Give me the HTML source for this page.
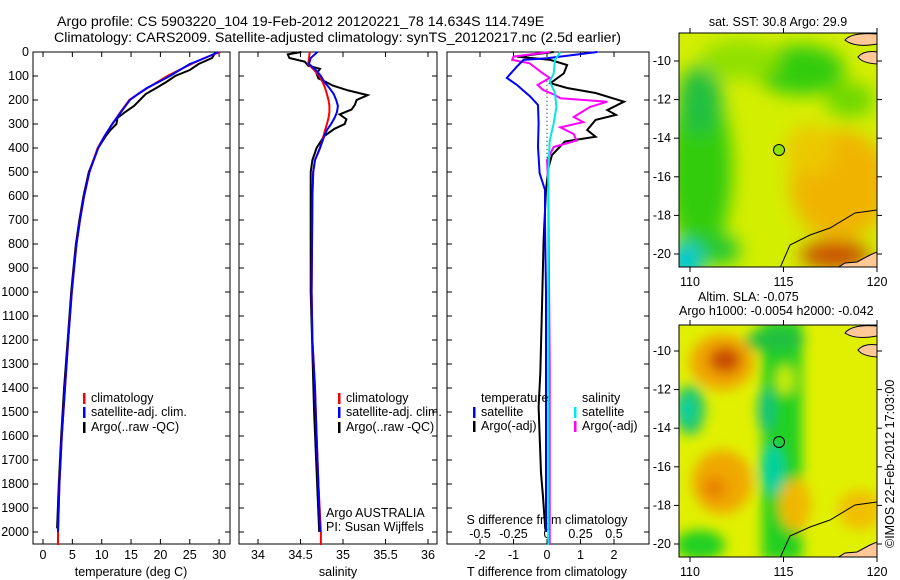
<!DOCTYPE html>
<html><head><meta charset="utf-8"><style>
html,body{margin:0;padding:0;background:#fff;}
svg{display:block;font-family:"Liberation Sans",sans-serif;}
text{font-size:12.5px;fill:#000;}
</style></head><body>
<svg id="fig" width="900" height="580" viewBox="0 0 900 580" xmlns="http://www.w3.org/2000/svg">
<defs>
<filter id="blur1" x="-20%" y="-20%" width="140%" height="140%"><feGaussianBlur stdDeviation="9"/></filter>
<filter id="blur2" x="-20%" y="-20%" width="140%" height="140%"><feGaussianBlur stdDeviation="6"/></filter>
<clipPath id="clipTop"><rect x="679" y="33" width="198" height="234"/></clipPath>
<clipPath id="clipBot"><rect x="679" y="325" width="198" height="232"/></clipPath>
</defs>
<text x="57" y="26" style="font-size:14.2px">Argo profile: CS 5903220_104 19-Feb-2012 20120221_78 14.634S 114.749E</text>
<text x="54" y="42" style="font-size:14.2px">Climatology: CARS2009. Satellite-adjusted climatology: synTS_20120217.nc (2.5d earlier)</text>

<!-- top map -->
<g clip-path="url(#clipTop)">
<rect x="679" y="33" width="198" height="234" fill="#d4ee00"/>
<g filter="url(#blur1)">
<ellipse cx="700" cy="170" rx="32" ry="85" fill="#30cc10"/>
<ellipse cx="700" cy="100" rx="22" ry="35" fill="#20c040"/>
<ellipse cx="800" cy="70" rx="45" ry="25" fill="#30cc10"/>
<ellipse cx="850" cy="100" rx="25" ry="18" fill="#70d800"/>
<ellipse cx="740" cy="60" rx="40" ry="20" fill="#90e000"/>
<ellipse cx="840" cy="185" rx="50" ry="55" fill="#f0b400"/>
<ellipse cx="810" cy="150" rx="25" ry="25" fill="#ecc800"/>
<ellipse cx="835" cy="255" rx="35" ry="14" fill="#c84a00"/>
<ellipse cx="685" cy="262" rx="18" ry="20" fill="#00c8d8"/>
<ellipse cx="720" cy="250" rx="20" ry="15" fill="#20c830"/>
</g>
<path d="M845,40 Q852,32 877,34 L877,44 Q855,48 845,40 Z" fill="#ffc896" stroke="#000" stroke-width="1"/>
<path d="M858,57 Q864,50 877,52 L877,64 Q862,63 858,57 Z" fill="#ffc896" stroke="#000" stroke-width="1"/>
<path d="M837,268 L845,263 L857,262 L870,255 L877,252 L877,268 Z" fill="#ffc896" stroke="#000" stroke-width="1"/>
<polyline points="780,268 790,245 810,235 830,228 855,213 877,210" fill="none" stroke="#000" stroke-width="1"/>
<circle cx="779" cy="150" r="5.5" fill="#90e000" stroke="#000" stroke-width="1"/>
</g>
<rect x="679" y="33" width="198" height="234" fill="none" stroke="#000" stroke-width="1"/>

<!-- bottom map -->
<g clip-path="url(#clipBot)">
<rect x="679" y="325" width="198" height="232" fill="#e0f000"/>
<g filter="url(#blur2)">
<ellipse cx="722" cy="362" rx="32" ry="28" fill="#f0a400"/>
<ellipse cx="725" cy="360" rx="16" ry="13" fill="#c84800"/>
<ellipse cx="722" cy="482" rx="30" ry="32" fill="#f0a800"/>
<ellipse cx="715" cy="488" rx="12" ry="12" fill="#e88400"/>
<rect x="762" y="320" width="40" height="240" fill="#20d020"/>
<ellipse cx="775" cy="340" rx="30" ry="12" fill="#20c040"/>
<ellipse cx="766" cy="410" rx="8" ry="22" fill="#10c080"/>
<ellipse cx="772" cy="470" rx="12" ry="25" fill="#00d0a0"/>
<ellipse cx="690" cy="410" rx="15" ry="25" fill="#20c870"/>
<ellipse cx="686" cy="410" rx="7" ry="12" fill="#00d0a8"/>
<ellipse cx="700" cy="545" rx="25" ry="15" fill="#20d020"/>
<ellipse cx="795" cy="505" rx="16" ry="26" fill="#f0b800"/>
<ellipse cx="860" cy="510" rx="22" ry="20" fill="#f0c000"/>
<ellipse cx="785" cy="380" rx="8" ry="15" fill="#d0f000"/>
</g>
<path d="M845,333 Q852,324 877,326 L877,336 Q855,340 845,333 Z" fill="#ffc896" stroke="#000" stroke-width="1"/>
<path d="M858,350 Q864,343 877,345 L877,357 Q862,356 858,350 Z" fill="#ffc896" stroke="#000" stroke-width="1"/>
<path d="M837,558 L845,553 L857,552 L870,545 L877,542 L877,558 Z" fill="#ffc896" stroke="#000" stroke-width="1"/>
<polyline points="780,558 790,536 810,527 830,520 855,505 877,502" fill="none" stroke="#000" stroke-width="1"/>
<circle cx="779" cy="442" r="5.5" fill="none" stroke="#000" stroke-width="1"/>
</g>
<rect x="679" y="325" width="198" height="232" fill="none" stroke="#000" stroke-width="1"/>

<text x="778" y="26" text-anchor="middle">sat. SST: 30.8 Argo: 29.9</text>
<text x="698" y="301">Altim. SLA: -0.075</text>
<text x="679" y="315">Argo h1000: -0.0054 h2000: -0.042</text>
<text transform="translate(894,548) rotate(-90)">©IMOS 22-Feb-2012 17:03:00</text>
<g id="axes"></g>
</svg>
<script>
// ---- data ----
const tempDepth = [0,25,50,75,100,125,150,175,200,250,300,350,400,500,600,700,800,900,1000,1200,1400,1600,1800,2000];
const tempClim  = [30.2,27.5,25.3,23.2,21.2,19.5,17.8,16.2,14.7,13.2,11.8,10.5,9.3,7.9,7.0,6.3,5.7,5.3,4.9,4.3,3.75,3.2,2.8,2.55];
const tempSat   = [29.9,27.6,25.0,23.3,21.6,19.7,17.7,16.2,14.8,13.3,11.8,10.5,9.4,7.9,7.0,6.3,5.7,5.3,4.9,4.3,3.75,3.2,2.8,2.55];
const tempArgoDepth = [0,25,50,75,100,125,150,175,200,225,250,275,300,325,350,400,500,600,700,800,900,1000,1200,1400,1600,1800,1985];
const tempArgo  = [29.4,28.8,26.5,25.0,22.5,21.0,19.3,17.5,16.5,15.5,14.0,12.7,12.5,11.5,10.7,9.4,7.8,6.9,6.2,5.6,5.2,4.8,4.2,3.6,3.1,2.7,2.4];
const tempClimEnd = 2054;

const salDepth = [0,25,50,75,100,125,150,175,200,225,250,275,300,325,350,400,450,500,600,1000,1200,1400,1600,1800,2000];
const salClim  = [34.61,34.60,34.59,34.66,34.72,34.76,34.79,34.81,34.83,34.84,34.84,34.83,34.81,34.79,34.77,34.73,34.67,34.65,34.64,34.63,34.64,34.67,34.69,34.71,34.74];
const salSat   = [34.70,34.62,34.60,34.68,34.74,34.78,34.84,34.89,34.92,34.94,34.93,34.90,34.86,34.81,34.78,34.73,34.67,34.65,34.64,34.63,34.64,34.67,34.69,34.71,34.73];
const salArgoDepth = [0,10,25,40,57,70,90,110,125,140,160,180,200,220,240,260,280,300,320,350,400,450,500,1000,1500,2000];
const salArgo  = [34.51,34.35,34.37,34.55,34.59,34.73,34.69,34.71,34.80,34.88,35.06,35.29,35.16,35.14,35.10,34.96,35.04,35.02,34.90,34.78,34.69,34.64,34.62,34.62,34.66,34.72];

const dTSatDepth = [0,26,33,61,108,137,186,221,296,395,505,575,712,1000,1500,2000];
const dTSat      = [1.5,0,-0.7,-0.9,-1.2,-0.9,-0.5,-0.27,-0.25,-0.27,-0.22,-0.06,-0.06,-0.03,-0.03,-0.03];
const dTArgoDepth = [0,19,33,54,89,130,150,171,207,242,262,283,325,353,373,429,478,575,783,1061,1339,1478,1754,1853,1990];
const dTArgo      = [0.2,-0.9,0.1,0.6,0.5,0.1,0.6,1.45,2.3,1.8,2.06,1.45,1.2,1.45,0.53,0.15,0.05,-0.03,-0.1,-0.15,-0.2,-0.25,-0.18,-0.12,-0.05];
const dSArgoDepth = [0,19,33,47,89,108,137,158,179,193,207,229,271,292,314,342,369,396,451,549,1300,2054];
const dSArgo      = [0.02,-0.25,-0.26,-0.13,-0.03,0.02,-0.07,-0.03,0.06,0.1,0.45,0.32,0.2,0.27,0.1,0.2,0.22,0.05,0,0.01,0.02,0.02];
const dSSatDepth = [0,33,89,123,171,229,297,369,505,1000,2054];
const dSSat      = [0.1,0.06,0.05,0.02,0.06,0.07,0.05,0.02,0.01,0.01,0.01];

const depthTicks = [0,100,200,300,400,500,600,700,800,900,1000,1100,1200,1300,1400,1500,1600,1700,1800,1900,2000];
const tempTicks = [0,5,10,15,20,25,30];
const salTicks = [34,34.5,35,35.5,36];
const salTickLabels = ["34","34.5","35","35.5","36"];
const dTTicks = [-2,-1,0,1,2];
const dSTicks = [-0.5,-0.25,0,0.25,0.5];
const dSTickLabels = ["-0.5","-0.25","0","0.25","0.5"];
const latTicks = [-10,-12,-14,-16,-18,-20];
const lonTicks = [110,115,120];

// ---- scales ----
const Y = d => 52 + 0.24*d;
const XT = t => 43 + 5.87*t;
const XS = s => 258 + 85*(s-34);
const XdT = v => 547 + 33.5*v;
const XdS = v => 547 + 134*v;
const lonX = l => 690 + 18.7*(l-110);
const latYTop = l => 61 + 19.3*(-10 - l);
const latYBot = l => 351 + 19.3*(-10 - l);

const NS = "http://www.w3.org/2000/svg";
const root = document.getElementById('axes');
function mk(tag, attrs){const e=document.createElementNS(NS,tag);for(const k in attrs)e.setAttribute(k,attrs[k]);root.appendChild(e);return e;}
function line(xs, ds, fx, color, name, w){
  const pts = xs.map((v,i)=>fx(v).toFixed(1)+','+Y(ds[i]).toFixed(1)).join(' ');
  const p = mk('polyline',{points:pts,fill:'none',stroke:color,'stroke-width':w||2});
  
  
}
function txt(x,y,s,anchor,name){const t=mk('text',{x:x,y:y,'text-anchor':anchor||'start'});t.textContent=s;
  
  
  return t;}

const panels = [[33,230],[239,437],[447,649]];
const top0=52, bot0=544;
panels.forEach((p,i)=>{
  const r = mk('rect',{x:p[0],y:top0,width:p[1]-p[0],height:bot0-top0,fill:'none',stroke:'#000','stroke-width':1});
  
  
  depthTicks.forEach(d=>{
    mk('line',{x1:p[0],x2:p[0]+5,y1:Y(d),y2:Y(d),stroke:'#000'});
    mk('line',{x1:p[1],x2:p[1]-5,y1:Y(d),y2:Y(d),stroke:'#000'});
  });
});
depthTicks.forEach(d=>txt(29,Y(d)+4,String(d),'end','depth-tick-label'));
tempTicks.forEach(t=>{mk('line',{x1:XT(t),x2:XT(t),y1:bot0,y2:bot0-5,stroke:'#000'});mk('line',{x1:XT(t),x2:XT(t),y1:top0,y2:top0+5,stroke:'#000'});txt(XT(t),559,String(t),'middle','temp-tick-label');});
salTicks.forEach((s,i)=>{mk('line',{x1:XS(s),x2:XS(s),y1:bot0,y2:bot0-5,stroke:'#000'});mk('line',{x1:XS(s),x2:XS(s),y1:top0,y2:top0+5,stroke:'#000'});txt(XS(s),559,salTickLabels[i],'middle','salinity-tick-label');});
dTTicks.forEach(t=>{mk('line',{x1:XdT(t),x2:XdT(t),y1:bot0,y2:bot0-5,stroke:'#000'});mk('line',{x1:XdT(t),x2:XdT(t),y1:top0,y2:top0+5,stroke:'#000'});txt(XdT(t),559,String(t),'middle','t-diff-tick-label');});
dSTicks.forEach((s,i)=>{mk('line',{x1:XdS(s),x2:XdS(s),y1:bot0,y2:bot0-5,stroke:'#000'});txt(XdS(s),538,dSTickLabels[i],'middle','s-diff-tick-label');});
txt(131,576,'temperature (deg C)','middle','x-axis-title-temperature');
txt(338,576,'salinity','middle','x-axis-title-salinity');
txt(547,576,'T difference from climatology','middle','x-axis-title-t-diff');
txt(547,524,'S difference from climatology','middle','s-diff-axis-title');

const z = mk('line',{x1:547,x2:547,y1:Y(120),y2:Y(450),stroke:'#000','stroke-dasharray':'1,3'});



line(tempArgo,tempArgoDepth,XT,'#000','temp-argo-line');
line(tempClim.concat([tempClim[tempClim.length-1]]),tempDepth.concat([tempClimEnd]),XT,'#ff0000','temp-climatology-line');
line(tempSat,tempDepth,XT,'#0000ff','temp-satellite-line');
line(salArgo,salArgoDepth,XS,'#000','salinity-argo-line');
line(salClim.concat([salClim[salClim.length-1]]),salDepth.concat([tempClimEnd]),XS,'#ff0000','salinity-climatology-line');
line(salSat,salDepth,XS,'#0000ff','salinity-satellite-line');
line(dTArgo,dTArgoDepth,XdT,'#000','t-diff-argo-line');
line(dSArgo,dSArgoDepth,XdS,'#ff00ff','s-diff-argo-line');
line(dTSat,dTSatDepth,XdT,'#0000ff','t-diff-satellite-line');
line(dSSat,dSSatDepth,XdS,'#00e8e8','s-diff-satellite-line');

function leg(x,y,color,label,name){
  const m=mk('rect',{x:x,y:y-9,width:2.5,height:11,fill:color});
  
  
  txt(x+8,y,label,'start',name+'-label');
}
leg(83,402,'#ff0000','climatology','legend-climatology');
leg(83,416,'#0000ff','satellite-adj. clim.','legend-satellite');
leg(83,431,'#000','Argo(..raw -QC)','legend-argo');
leg(338,402,'#ff0000','climatology','legend2-climatology');
leg(338,416,'#0000ff','satellite-adj. clim.','legend2-satellite');
leg(338,431,'#000','Argo(..raw -QC)','legend2-argo');
txt(481,402,'temperature','start','legend-temperature-heading');
leg(473,416,'#0000ff','satellite','legend-t-satellite');
leg(473,430,'#000','Argo(-adj)','legend-t-argo');
txt(582,402,'salinity','start','legend-salinity-heading');
leg(574,416,'#00e8e8','satellite','legend-s-satellite');
leg(574,430,'#ff00ff','Argo(-adj)','legend-s-argo');
txt(326,517,'Argo AUSTRALIA','start','credit-argo-australia');
txt(326,531,'PI: Susan Wijffels','start','credit-pi');

latTicks.forEach(l=>{
  [latYTop,latYBot].forEach(f=>{
    mk('line',{x1:679,x2:674,y1:f(l),y2:f(l),stroke:'#000'});
    mk('line',{x1:877,x2:882,y1:f(l),y2:f(l),stroke:'#000'});
    txt(671,f(l)+4,String(l),'end','map-lat-label');
  });
});
lonTicks.forEach(l=>{
  mk('line',{x1:lonX(l),x2:lonX(l),y1:267,y2:272,stroke:'#000'});
  mk('line',{x1:lonX(l),x2:lonX(l),y1:33,y2:28,stroke:'#000'});
  txt(lonX(l),286,String(l),'middle','map-lon-label');
  mk('line',{x1:lonX(l),x2:lonX(l),y1:557,y2:562,stroke:'#000'});
  mk('line',{x1:lonX(l),x2:lonX(l),y1:325,y2:320,stroke:'#000'});
  txt(lonX(l),576,String(l),'middle','map-lon-label');
});
</script>
</body></html>
